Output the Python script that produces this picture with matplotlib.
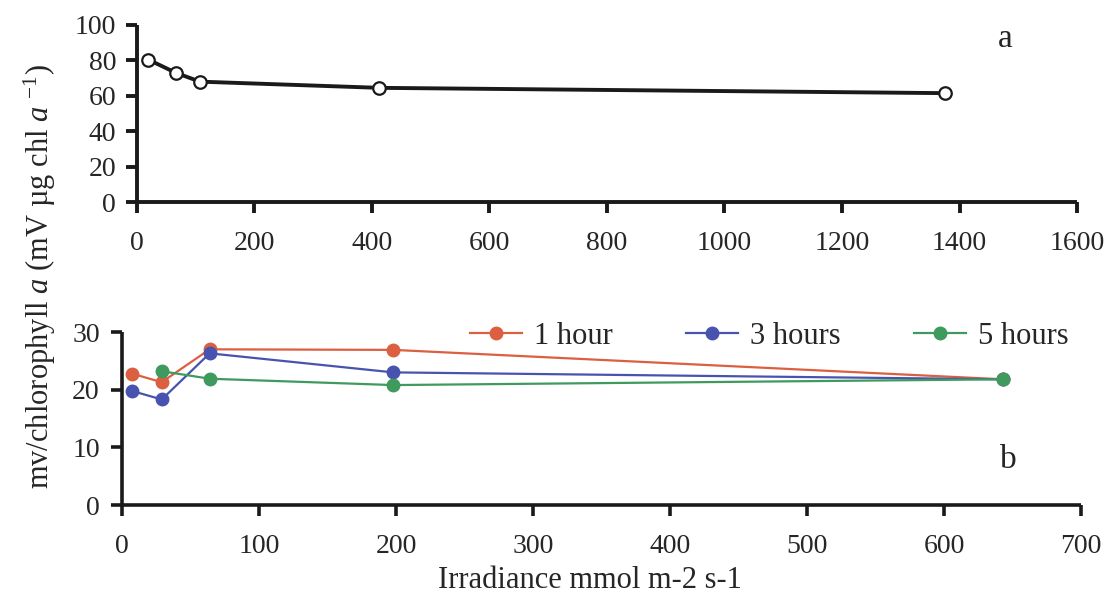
"""
Two-panel chart: fluorescence per chlorophyll a vs irradiance.
Panel a: single series, panel b: three exposure times.
"""

import matplotlib
matplotlib.use("Agg")
import matplotlib.pyplot as plt


# ---------- DATA ----------
# panel a
A_X = [19, 66, 107, 412, 1375]
A_Y = [80.5, 73, 68, 64.5, 61.5]

# panel b
B_X_1H = [7, 29, 64, 198, 643]
B_Y_1H = [22.8, 21.3, 27.0, 26.9, 21.8]

B_X_3H = [7, 29, 64, 198, 643]
B_Y_3H = [19.8, 18.3, 26.3, 23.0, 21.8]

B_X_5H = [29, 64, 198, 643]
B_Y_5H = [23.2, 21.9, 20.8, 21.8]

SERIES_B = [
    ("1 hour", B_X_1H, B_Y_1H, "#dc5f42"),
    ("3 hours", B_X_3H, B_Y_3H, "#4853b0"),
    ("5 hours", B_X_5H, B_Y_5H, "#3f9a5e"),
]

A_XTICKS = [0, 200, 400, 600, 800, 1000, 1200, 1400, 1600]
A_YTICKS = [0, 20, 40, 60, 80, 100]
B_XTICKS = [0, 100, 200, 300, 400, 500, 600, 700]
B_YTICKS = [0, 10, 20, 30]
# ----------------------------------------------------

SERIF = "Liberation Serif"
plt.rcParams["font.family"] = SERIF
plt.rcParams["mathtext.fontset"] = "custom"
plt.rcParams["mathtext.rm"] = SERIF
plt.rcParams["mathtext.it"] = SERIF + ":italic"

TEXT = "#262626"


def style_axis(ax, xlim, ylim, xticks, yticks, spine_w, xpad, ypad):
    ax.set_xlim(*xlim)
    ax.set_ylim(*ylim)
    ax.set_xticks(xticks)
    ax.set_yticks(yticks)
    for side in ("top", "right"):
        ax.spines[side].set_visible(False)
    for side in ("left", "bottom"):
        ax.spines[side].set_linewidth(spine_w)
        ax.spines[side].set_color("#1a1a1a")
        ax.spines[side].set_capstyle("butt")
    ax.tick_params(axis="both", direction="out", length=8, width=spine_w,
                   color="#1a1a1a", labelsize=20, labelcolor=TEXT)
    ax.tick_params(axis="x", pad=xpad)
    ax.tick_params(axis="y", pad=ypad)
    ax.patch.set_alpha(0)


fig = plt.figure(figsize=(11.11, 5.98), dpi=100)

# --- panel a ---
ax_a = fig.add_axes([0.1233, 0.6622, 0.8461, 0.2960])
style_axis(ax_a, (0, 1600), (0, 100), A_XTICKS, A_YTICKS, 2.8, 13, 7)
ax_a.plot(A_X, A_Y, color="#1a1a1a", linewidth=2.8, marker="o",
          markersize=9, markerfacecolor="white", markeredgecolor="#1a1a1a",
          markeredgewidth=1.6, clip_on=False, zorder=3)
ax_a.text(0.924, 0.92, "a", transform=ax_a.transAxes, fontsize=24,
          color=TEXT, ha="center", va="center")

# --- panel b ---
ax_b = fig.add_axes([0.1098, 0.1555, 0.8632, 0.2893])
style_axis(ax_b, (0, 700), (0, 30), B_XTICKS, B_YTICKS, 2.6, 13, 8)
for label, xs, ys, col in SERIES_B:
    ax_b.plot(xs, ys, color=col, linewidth=1.6, marker="o", markersize=9,
              label=label, clip_on=False, zorder=3)
ax_b.text(0.924, 0.26, "b", transform=ax_b.transAxes, fontsize=24,
          color=TEXT, ha="center", va="center")
ax_b.legend(loc="center", bbox_to_anchor=(0.675, 0.975), ncol=3,
            frameon=False, fontsize=22, handlelength=1.7, handletextpad=0.4,
            columnspacing=2.4, labelcolor=TEXT, borderpad=0.1)

# --- shared labels ---
fig.text(0.036, 0.538,
         r"mv/chlorophyll $a$ (mV µg chl $a$ $^{-1}$)",
         rotation=90, ha="center", va="center", fontsize=22, color=TEXT)
fig.text(0.531, 0.030, "Irradiance mmol m-2 s-1", ha="center",
         va="center", fontsize=22, color=TEXT)

fig.savefig("out.png", dpi=100, facecolor="white")
